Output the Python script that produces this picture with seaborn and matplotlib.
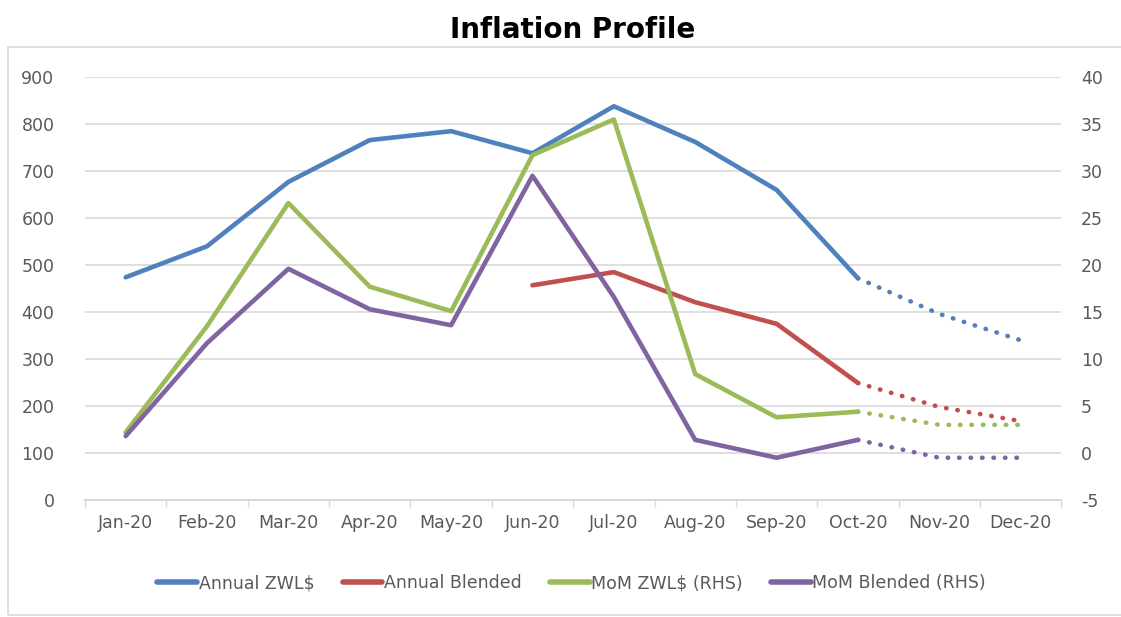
import numpy as np
import pandas as pd
import matplotlib
matplotlib.use("Agg")
import matplotlib.pyplot as plt
from matplotlib.patches import Rectangle
from matplotlib.lines import Line2D
import seaborn as sns

months = ["Jan-20", "Feb-20", "Mar-20", "Apr-20", "May-20", "Jun-20",
          "Jul-20", "Aug-20", "Sep-20", "Oct-20", "Nov-20", "Dec-20"]
# actuals Jan-Oct, projections (dotted) Oct-Dec
annual_zwl = [474, 540, 677, 766, 785, 738, 838, 762, 660, 472, 396, 340]
annual_blended = [np.nan, np.nan, np.nan, np.nan, np.nan, 457, 485, 421, 375, 249, 198, 168]
mom_zwl = [2.2, 13.5, 26.6, 17.7, 15.1, 31.7, 35.5, 8.4, 3.8, 4.4, 3.0, 3.0]
mom_blended = [1.8, 11.7, 19.6, 15.3, 13.6, 29.5, 16.6, 1.4, -0.5, 1.4, -0.5, -0.5]
last_actual = 9  # Oct-20

colors = {"Annual ZWL$": "#4F81BD", "Annual Blended": "#C0504D",
          "MoM ZWL$ (RHS)": "#9BBB59", "MoM Blended (RHS)": "#8064A2"}

df = pd.DataFrame({"pos": np.arange(len(months)), "month": months,
                   "Annual ZWL$": annual_zwl, "Annual Blended": annual_blended,
                   "MoM ZWL$ (RHS)": mom_zwl, "MoM Blended (RHS)": mom_blended})

sns.set_theme(style="white")
plt.rcParams["font.family"] = ["DejaVu Sans"]
plt.rcParams["axes.unicode_minus"] = False

fig = plt.figure(figsize=(11.21, 6.17), dpi=100)
ax = fig.add_axes([0.0758, 0.1896, 0.871, 0.6854])
ax2 = ax.twinx()

lw = 3.3
dots = (0, (0.1, 2.4))
actual = df[df["pos"] <= last_actual]
proj = df[df["pos"] >= last_actual]
for name in ["Annual ZWL$", "Annual Blended"]:
    sns.lineplot(data=actual, x="pos", y=name, ax=ax, color=colors[name], lw=lw,
                 solid_capstyle="round")
    sns.lineplot(data=proj, x="pos", y=name, ax=ax, color=colors[name], lw=lw,
                 linestyle=dots, dash_capstyle="round")
for name in ["MoM ZWL$ (RHS)", "MoM Blended (RHS)"]:
    sns.lineplot(data=actual, x="pos", y=name, ax=ax2, color=colors[name], lw=lw,
                 solid_capstyle="round")
    sns.lineplot(data=proj, x="pos", y=name, ax=ax2, color=colors[name], lw=lw,
                 linestyle=dots, dash_capstyle="round")

ax.set_xlim(-0.5, len(months) - 0.5)
ax.set_ylim(0, 900)
ax.set_yticks(range(0, 901, 100))
ax2.set_ylim(-5, 40)
ax2.set_yticks(range(-5, 41, 5))
ax.set_xticks(np.arange(len(months)))
ax.set_xticklabels(months)
ax.set_xticks(np.arange(len(months) + 1) - 0.5, minor=True)
ax.set_xlabel("")
ax.set_ylabel("")
ax2.set_ylabel("")

ax.grid(axis="y", color="#D9D9D9", lw=1.2)
ax.set_axisbelow(True)
for a in (ax, ax2):
    for s in ["top", "left", "right"]:
        a.spines[s].set_visible(False)
    a.spines["bottom"].set_color("#D9D9D9")
    a.tick_params(colors="#595959", labelsize=12.5)
ax.tick_params(axis="x", which="major", length=0, pad=10)
ax.tick_params(axis="x", which="minor", length=5, color="#D9D9D9", bottom=True)
ax.tick_params(axis="y", length=0, pad=22)
ax2.tick_params(axis="y", length=0, pad=14)

fig.text(0.511, 0.951, "Inflation Profile", ha="center", va="center",
         fontsize=20, fontweight="bold", color="black")

handles = [Line2D([], [], color=c, lw=4, solid_capstyle="round") for c in colors.values()]
fig.legend(handles, list(colors.keys()), loc="center", bbox_to_anchor=(0.51, 0.055),
           ncol=4, frameon=False, fontsize=12.5, handlelength=2.3,
           handletextpad=0.1, columnspacing=1.6, labelcolor="#595959")

fig.patches.append(Rectangle((8 / 1121, 2 / 617), 1, 568 / 617, transform=fig.transFigure,
                             fill=False, edgecolor="#D9D9D9", lw=1.2))

fig.savefig("out.png", dpi=100)
